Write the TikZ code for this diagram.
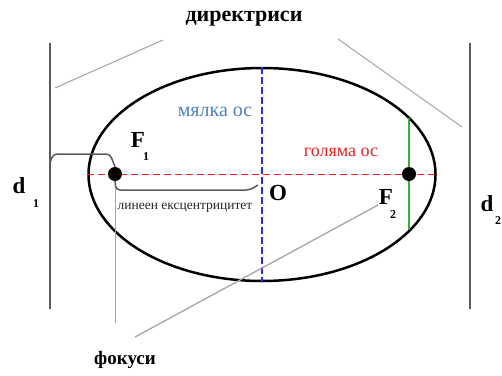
\documentclass[tikz,border=0pt]{standalone}
\usepackage{fontspec}
\setmainfont{Liberation Serif}
\usetikzlibrary{shapes.geometric}
\definecolor{minorblue}{RGB}{79,129,189}
\definecolor{axisblue}{RGB}{40,40,255}
\definecolor{axisred}{RGB}{240,30,30}
\definecolor{latgreen}{RGB}{60,170,60}
\definecolor{dirgray}{RGB}{90,90,90}
\definecolor{ptrgray}{RGB}{165,165,165}
\begin{document}
\begin{tikzpicture}[x=1pt,y=-1pt,
  lbl/.style={inner sep=0pt, font=\bfseries\fontsize{21}{21}\selectfont},
  big/.style={inner sep=0pt, font=\bfseries\fontsize{23}{23}\selectfont},
  sub/.style={inner sep=0pt, font=\bfseries\fontsize{12}{12}\selectfont},
  dot/.style={circle, fill=black, inner sep=0pt, minimum size=14pt},
  directrix/.style={draw=dirgray, line width=1.6pt},
  pointer/.style={draw=ptrgray, line width=1pt},
  bracket/.style={draw=dirgray, line width=1.5pt, rounded corners=4pt}]
\useasboundingbox (0,0) rectangle (502,375);
% ellipse
\node[draw, ellipse, line width=2.5pt, minimum width=347pt, minimum height=213pt, inner sep=0pt] (ell) at (262,174.5) {};
% axes
\draw[axisblue, dashed, line width=1.6pt, dash pattern=on 7pt off 3pt] (ell.north) -- (ell.south);
\draw[axisred, dashed, line width=1.2pt, dash pattern=on 7pt off 4pt] (ell.west) -- (ell.east);
% latus rectum
\coordinate (gtop) at (409,118);
\coordinate (gbot) at (409,230);
\draw[latgreen, line width=1.3pt] (gtop) -- (gbot);
% foci
\node[dot] (F1dot) at (115,174) {};
\node[dot] (F2dot) at (409,174) {};
% directrices
\coordinate (d1top) at (50,43);
\coordinate (d1bot) at (50,309);
\coordinate (d2top) at (470,43);
\coordinate (d2bot) at (470,309);
\draw[directrix] (d1top) -- (d1bot);
\draw[directrix] (d2top) -- (d2bot);
% labels
\node[lbl, font=\bfseries\fontsize{22}{22}\selectfont] (dirlbl) at (244,19) {директриси};
\node[lbl, font=\bfseries\fontsize{19}{19}\selectfont] (foclbl) at (125,360) {фокуси};
\node[inner sep=0pt, text=minorblue, font=\fontsize{20}{20}\selectfont] (minor) at (215,112) {мялка ос};
\node[inner sep=0pt, text=axisred, font=\fontsize{18}{18}\selectfont] (major) at (341,152) {голяма ос};
\node[inner sep=0pt, text=black!85, font=\fontsize{13.5}{13.5}\selectfont] (linecc) at (185,208) {линеен ексцентрицитет};
\node[big] (O) at (278,193) {O};
\node[big] (F1) at (138,140) {F};
\node[sub] (F1s) at (146,157) {1};
\node[big] (F2) at (386,197) {F};
\node[sub] (F2s) at (393,215) {2};
\node[big] (d1) at (19,186) {d};
\node[sub] (d1s) at (36,204) {1};
\node[big] (d2) at (487,204) {d};
\node[sub] (d2s) at (498,221) {2};
% pointer lines to directrices
\coordinate (pl1) at (55,88);
\coordinate (pl2) at (163,40);
\coordinate (pr1) at (338,39);
\coordinate (pr2) at (462,127);
\draw[pointer] (pl1) -- (pl2);
\draw[pointer] (pr1) -- (pr2);
% pointers to foci
\coordinate (fv) at (115,323);
\draw[pointer, line width=0.8pt] (F1dot) -- (fv);
\coordinate (fa) at (378,205);
\coordinate (fb) at (135,337);
\draw[pointer, line width=1.3pt] (fa) -- (fb);
% brackets
\draw[bracket] (F1dot.south) -- (116,190) -- (250,190) -- (258,185);
\draw[bracket] (d1top |- 0,163) -- (53,154) -- (110,154) -- (F1dot.north);
\end{tikzpicture}
\end{document}
